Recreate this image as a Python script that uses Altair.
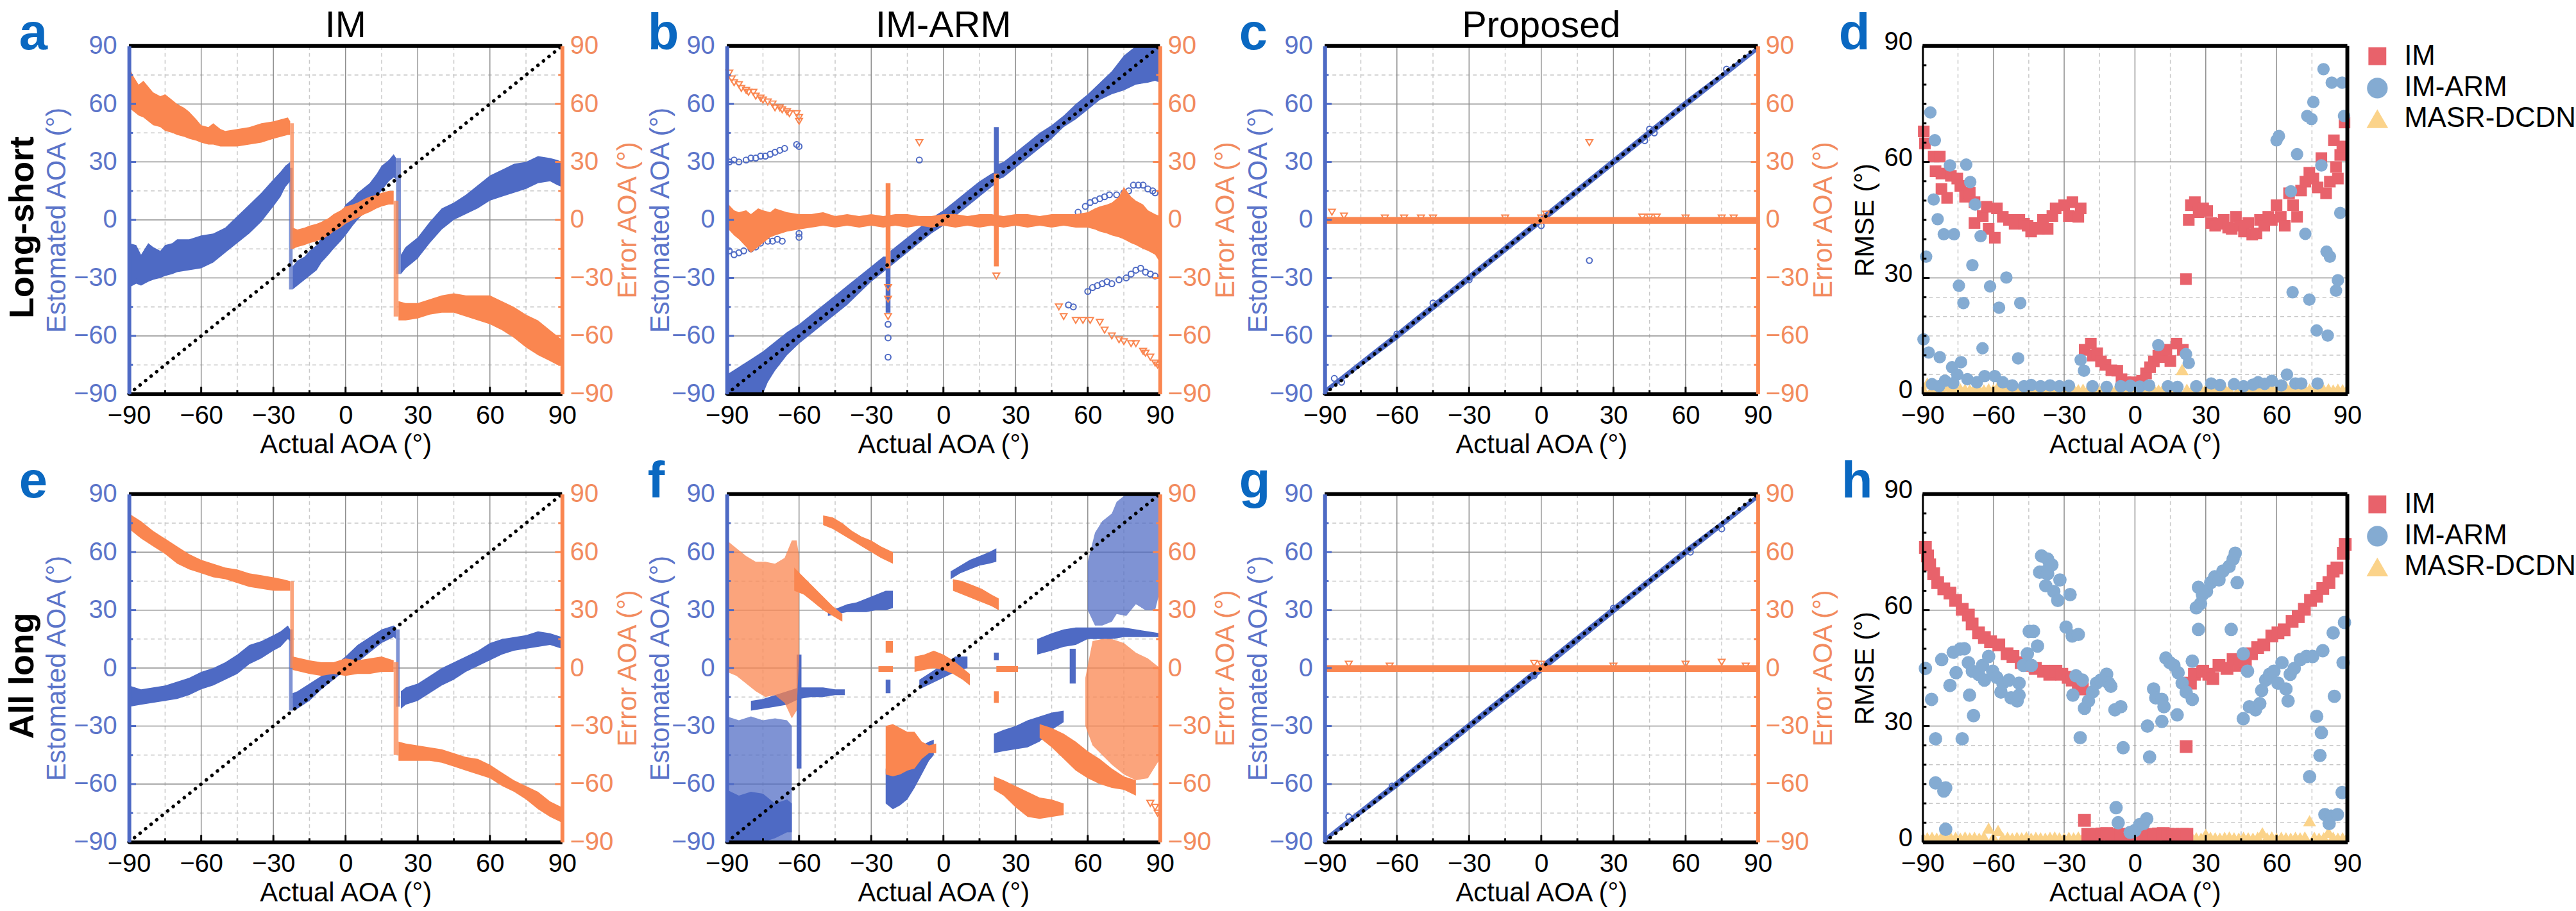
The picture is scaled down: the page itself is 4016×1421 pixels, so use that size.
import altair as alt
import pandas as pd

# ---------------------------------------------------------------- styling
FONT = "Liberation Sans"
BLUE = "#4e6ac4"
BLUE_TEXT = "#5b74c9"
ORANGE = "#fa8650"
ORANGE_TEXT = "#f28b5e"
LETTER_BLUE = "#0a68c1"
GRID_MAJOR = "#8f8f8f"
GRID_MINOR = "#c8c8c8"
IM_RED = "#e8626b"
ARM_BLUE = "#84abd2"
MASR_YELLOW = "#fbd38a"

W = 678
W_RMSE = 665
H = 545

# ---------------------------------------------------------------- axes
ANGLE_TICKS = [-90, -60, -30, 0, 30, 60, 90]
ANGLE_MINOR_TICKS = [-75, -45, -15, 15, 45, 75]
ANGLE_MAJOR_GRID = [-60, -30, 0, 30, 60]
ANGLE_MINOR_GRID = [-75, -45, -15, 15, 45, 75]
RMSE_TICKS = [0, 30, 60, 90]
RMSE_MINOR_TICKS = [5, 10, 15, 20, 25, 35, 40, 45, 50, 55, 65, 70, 75, 80, 85]
RMSE_MAJOR_GRID = [30, 60]
RMSE_MINOR_GRID = [5, 10, 15, 20, 25]
IDEAL = [-90, 90]
METHODS = ["IM", "IM-ARM", "MASR-DCDN"]

# ---------------------------------------------------------------- (a) IM, long-short
# bands are (actual, lowest estimate, highest estimate)
A_BLUE_1 = [(-90, -35, -12), (-87, -33, -13), (-85, -34, -18), (-82, -32, -12), (-80, -31, -14),
            (-77, -30, -16), (-75, -29, -13), (-72, -28, -12), (-70, -27, -10), (-65, -26, -10),
            (-60, -25, -8), (-55, -22, -7), (-50, -17, -4), (-45, -12, 2), (-40, -7, 8),
            (-35, -1, 14), (-30, 7, 21), (-27, 12, 25), (-25, 17, 28), (-23, 20, 30)]
A_BLUE_2 = [(-22, -36, -24), (-20, -34, -21), (-17, -31, -19), (-15, -29, -16), (-12, -26, -13),
            (-10, -22, -9), (-7, -18, -5), (-5, -15, -2), (-2, -11, 3), (0, -8, 8), (3, -3, 11),
            (5, 0, 14), (8, 4, 17), (10, 7, 19), (13, 12, 24), (15, 15, 28), (18, 20, 31),
            (20, 22, 34), (21, 21, 32)]
A_BLUE_3 = [(23, -28, -18), (25, -25, -14), (28, -22, -11), (30, -20, -9), (35, -12, -1),
            (40, -5, 6), (45, 0, 9), (50, 3, 13), (55, 6, 18), (60, 10, 23), (65, 12, 26),
            (70, 14, 29), (75, 16, 30), (80, 19, 33), (85, 20, 32), (88, 18, 31), (90, 17, 30)]
A_BLUE_JUMPS = [[(-23.5, -36, 27), (-22, -36, 27)], [(21, -28, 32), (23, -28, 32)]]
A_ORANGE_1 = [(-90, 58, 79), (-88, 56, 74), (-86, 54, 70), (-84, 53, 72), (-82, 51, 69), (-80, 49, 66),
              (-77, 48, 64), (-75, 46, 65), (-72, 45, 62), (-70, 44, 60), (-67, 43, 58), (-65, 42, 56),
              (-62, 41, 52), (-60, 40, 49), (-57, 39, 48), (-55, 39, 50), (-52, 38, 47), (-50, 38, 46),
              (-45, 38, 47), (-40, 39, 48), (-35, 40, 50), (-30, 42, 51), (-27, 43, 52), (-24, 44, 53),
              (-23, 44, 51)]
A_ORANGE_2 = [(-22, -15, -4), (-20, -14, -5), (-17, -13, -4), (-15, -12, -3), (-12, -11, -2),
              (-10, -10, -1), (-7, -8, 1), (-5, -6, 3), (-2, -4, 5), (0, -2, 7), (3, 0, 8), (5, 1, 9),
              (8, 3, 11), (10, 4, 12), (13, 6, 13), (15, 7, 14), (18, 8, 15), (20, 8, 15)]
A_ORANGE_3 = [(22, -52, -42), (25, -52, -43), (30, -51, -43), (35, -49, -41), (40, -48, -39),
              (45, -48, -38), (50, -50, -39), (55, -52, -39), (60, -54, -39), (65, -57, -42),
              (70, -61, -45), (75, -66, -49), (80, -70, -52), (85, -73, -57), (88, -75, -60), (90, -75, -62)]
A_ORANGE_JUMPS = [[(-23, -15, 50), (-21.5, -15, 50)], [(20, -50, 10), (22, -50, 10)]]

# ---------------------------------------------------------------- (b) IM-ARM, long-short
B_BLUE_1 = [(-90, -90, -80), (-85, -90, -76), (-80, -90, -72), (-75, -90, -68), (-73, -84, -66),
            (-70, -78, -63), (-65, -70, -58), (-60, -64, -54), (-55, -59, -49), (-50, -54, -44),
            (-45, -49, -39), (-40, -44, -34), (-35, -38, -29), (-30, -32, -24), (-25, -27, -19), (-23, -25, -19)]
B_BLUE_2 = [(-22, -24, -16), (-20, -22, -14), (-15, -17, -9), (-10, -12, -4), (-5, -7, 1), (0, -3, 5),
            (5, 2, 10), (10, 7, 15), (15, 12, 20), (20, 17, 24), (22, 19, 25)]
B_BLUE_3 = [(23, 21, 29), (25, 22, 30), (30, 27, 35), (35, 32, 40), (40, 37, 45), (45, 42, 49),
            (50, 48, 54), (55, 52, 60), (60, 57, 65), (65, 62, 71), (70, 65, 77), (75, 67, 85),
            (80, 70, 90), (85, 71, 90), (88, 72, 90), (90, 71, 88)]
B_BLUE_SPIKES = [[(-24, -48, -20), (-22, -48, -20)], [(21, 3, 48), (23, 3, 48)]]
B_BLUE_POINTS = [(-89, 30), (-87, 31), (-85, 30), (-82, 31), (-80, 32), (-78, 32), (-76, 33), (-74, 33),
                 (-72, 34), (-70, 35), (-68, 36), (-66, 37), (-61, 39), (-60, 38),
                 (-89, -16), (-87, -18), (-85, -17), (-83, -16), (-80, -15), (-78, -14), (-76, -12),
                 (-73, -11), (-71, -11), (-69, -10), (-67, -11), (-60, -7), (-60, -9),
                 (56, 4), (59, 7), (61, 9), (63, 10), (65, 11), (67, 12), (69, 13), (72, 13), (75, 14),
                 (77, 15), (79, 18), (81, 18), (83, 18), (85, 16), (87, 15), (88, 14),
                 (54, -45), (60, -37), (62, -35), (64, -34), (66, -33), (68, -32), (70, -33), (73, -31),
                 (76, -30), (78, -28), (80, -26), (82, -25), (84, -27), (86, -28), (88, -29),
                 (-10, 31), (52, -44), (-23, -54), (-23, -61), (-23, -71)]
B_ORANGE_MAIN = [(-90, -4, 9), (-87, -8, 5), (-85, -10, 4), (-82, -14, 5), (-80, -17, 3), (-77, -14, 6),
                 (-75, -12, 5), (-72, -9, 4), (-70, -8, 6), (-65, -6, 4), (-60, -5, 3), (-55, -4, 3),
                 (-50, -3, 4), (-45, -4, 2), (-40, -3, 3), (-35, -4, 2), (-30, -3, 3), (-25, -4, 2),
                 (-20, -3, 3), (-15, -4, 3), (-10, -3, 2), (-5, -4, 2), (0, -3, 3), (5, -4, 3),
                 (10, -3, 2), (15, -4, 3), (20, -3, 3), (25, -4, 2), (30, -3, 3), (35, -4, 3),
                 (40, -3, 2), (45, -4, 3), (50, -3, 3), (55, -4, 3), (60, -4, 4), (63, -5, 6),
                 (65, -6, 7), (68, -7, 8), (70, -8, 9), (73, -9, 12), (75, -10, 17), (78, -12, 12),
                 (80, -13, 10), (83, -15, 8), (85, -16, 5), (88, -18, 3), (90, -22, 2)]
B_ORANGE_SPIKES = [[(-24, -25, 19), (-22, -25, 19)], [(21, -24, 24), (23, -24, 24)]]
B_ORANGE_POINTS = [(-89, 76), (-88, 73), (-87, 71), (-85, 70), (-84, 68), (-82, 67), (-81, 66), (-79, 66),
                   (-78, 64), (-76, 63), (-75, 62), (-73, 61), (-71, 60), (-70, 58), (-68, 58), (-67, 57),
                   (-65, 56), (-64, 55), (-61, 55), (-60, 53), (-60, 51),
                   (48, -45), (50, -50), (55, -52), (58, -52), (61, -52), (65, -53), (67, -57), (70, -60),
                   (73, -62), (75, -63), (78, -64), (80, -64), (83, -68), (84, -69), (86, -71), (88, -74),
                   (89, -75), (-10, 40), (-23, -35), (-23, -41), (-23, -50), (22, -29)]

# ---------------------------------------------------------------- (c) proposed, long-short
C_BLUE_DIAG = [(-90, -90, -87.5), (-60, -62, -58), (-30, -32, -28), (0, -2, 2),
               (30, 28, 32), (60, 58, 62), (90, 87.5, 90)]
C_BLUE_POINTS = [(-86, -82), (-83, -84), (45, 47), (47, 45), (43, 41), (20, -21), (0, -3), (77, 78),
                 (-60, -59), (-30, -31), (-45, -43)]
C_ORANGE_FLAT = [(-90, -2, 1.5), (90, -2, 1.5)]
C_ORANGE_POINTS = [(-87, 4), (-82, 2), (-65, 1), (-57, 1), (-50, 1), (-45, 1), (-15, 1), (2, 3), (0, 1),
                   (42, 1.5), (45, 1.5), (48, 1.5), (60, 1), (75, 1), (80, 1), (20, 40)]

# ---------------------------------------------------------------- (e) IM, all long
E_BLUE_1 = [(-90, -20, -9), (-85, -19, -11), (-80, -18, -10), (-75, -17, -9), (-70, -16, -7),
            (-65, -14, -5), (-60, -11, -2), (-55, -9, 0), (-50, -6, 3), (-45, -3, 7), (-40, 2, 12),
            (-35, 5, 14), (-30, 9, 17), (-27, 11, 19), (-24, 15, 22), (-23, 14, 20)]
E_BLUE_2 = [(-22, -22, -13), (-20, -21, -12), (-15, -17, -8), (-10, -11, -4), (-5, -6, 1), (0, -1, 6),
            (5, 3, 12), (10, 8, 16), (15, 13, 20), (20, 16, 22), (21, 15, 21)]
E_BLUE_3 = [(23, -21, -12), (25, -19, -10), (30, -17, -8), (35, -13, -4), (40, -9, 0), (45, -6, 3),
            (50, -2, 6), (55, 1, 9), (60, 4, 13), (65, 7, 15), (70, 9, 16), (75, 10, 17), (80, 11, 19),
            (85, 12, 18), (90, 10, 16)]
E_BLUE_JUMPS = [[(-23.5, -22, 20), (-22, -22, 20)], [(21, -20, 20), (22.5, -20, 20)]]
E_ORANGE_1 = [(-90, 72, 80), (-85, 67, 76), (-80, 63, 71), (-75, 59, 67), (-70, 54, 63), (-65, 51, 59),
              (-60, 49, 56), (-55, 47, 54), (-50, 46, 52), (-45, 44, 51), (-40, 42, 49), (-35, 41, 48),
              (-30, 40, 47), (-26, 40, 46), (-23, 40, 45)]
E_ORANGE_2 = [(-22, -1, 6), (-15, -3, 4), (-10, -4, 3), (-5, -3, 3), (0, -4, 5), (5, -3, 4), (10, -3, 5),
              (15, -2, 6), (20, -2, 4)]
E_ORANGE_3 = [(22, -48, -38), (25, -48, -39), (30, -48, -40), (35, -48, -41), (40, -49, -42),
              (45, -51, -44), (50, -53, -46), (55, -55, -47), (60, -57, -50), (65, -61, -54),
              (70, -64, -58), (75, -68, -61), (80, -73, -64), (85, -77, -69), (90, -80, -72)]
E_ORANGE_JUMPS = [[(-23, 0, 45), (-21.5, 0, 45)], [(20, -45, 3), (22, -45, 3)]]

# ---------------------------------------------------------------- (f) IM-ARM, all long
F_BLUE_DENSE = [
    [(-61, -52, 7), (-59, -52, 7)],
    [(-80, -22, -17), (-75, -21, -16), (-70, -20, -14), (-65, -19, -12), (-60, -16, -10),
     (-55, -15, -10), (-50, -15, -10), (-45, -14, -11), (-41, -14, -11)],
    [(-48, 27, 30), (-44, 28, 31), (-40, 29, 33), (-36, 29, 34), (-32, 29, 36), (-28, 30, 38),
     (-24, 30, 40), (-21, 31, 40)],
    [(-24, -13, -6), (-22, -13, -6)],
    [(-24, -70, -52), (-21, -73, -53), (-18, -71, -54), (-15, -68, -52), (-12, -62, -45),
     (-9, -55, -40), (-6, -48, -38), (-4, -45, -37)],
    [(-10, -11, -6), (-5, -8, -2), (0, -5, 2), (5, -2, 6), (10, 0, 6)],
    [(3, 46, 50), (7, 49, 53), (11, 51, 56), (15, 53, 58), (19, 54, 60), (22, 55, 62)],
    [(21, -44, -34), (25, -43, -32), (30, -42, -30), (35, -41, -27), (40, -38, -25), (45, -32, -23),
     (50, -28, -22)],
    [(39, 7, 15), (45, 9, 18), (50, 11, 20), (55, 12, 21), (60, 15, 21), (65, 15, 21), (70, 15, 21),
     (75, 16, 21), (80, 16, 20), (85, 16, 19), (90, 16, 18)],
    [(52.5, -8, 10), (55, -8, 10)],
    [(21, 4, 8), (23, 4, 8)],
    [(-90, -90, -63), (-85, -90, -66), (-80, -90, -64), (-75, -90, -65), (-70, -88, -70),
     (-65, -85, -68), (-63, -85, -70)],
]
F_BLUE_SPARSE = [
    [(-90, -90, -25), (-85, -90, -27), (-80, -90, -25), (-75, -90, -27), (-70, -90, -26),
     (-65, -90, -27), (-63, -90, -30)],
    [(60, 30, 55), (63, 22, 70), (66, 22, 76), (70, 24, 80), (72, 28, 86), (76, 27, 90), (80, 33, 90),
     (84, 30, 90), (88, 30, 90), (90, 40, 90)],
]
F_ORANGE_DENSE = [
    [(-62, 40, 52), (-58, 38, 47), (-54, 34, 42), (-50, 30, 37), (-46, 27, 32), (-42, 24, 28)],
    [(-50, 74, 79), (-46, 72, 78), (-42, 69, 75), (-38, 66, 71), (-34, 63, 68), (-30, 60, 66),
     (-26, 57, 63), (-21, 54, 60)],
    [(-24, 8, 14), (-21, 8, 14)],
    [(-27, -2, 1), (-21, -2, 1)],
    [(-24, -55, -30), (-21, -56, -29), (-18, -55, -31), (-15, -53, -33), (-12, -52, -33),
     (-9, -47, -38), (-6, -44, -40), (-3, -44, -39)],
    [(-12, -2, 6), (-8, -1, 7), (-4, 0, 9), (0, -1, 7), (4, -3, 4), (8, -6, 0), (11, -9, -3)],
    [(4, 40, 46), (8, 38, 45), (12, 36, 43), (16, 34, 41), (20, 32, 38), (23, 30, 36)],
    [(21, -18, -12), (23, -18, -12)],
    [(22, -2, 1), (31, -2, 1)],
    [(21, -63, -56), (25, -66, -58), (30, -72, -61), (35, -77, -64), (40, -78, -67), (45, -77, -68),
     (50, -76, -70)],
    [(40, -36, -29), (45, -41, -31), (50, -47, -34), (55, -53, -38), (60, -57, -43), (65, -60, -47),
     (70, -62, -52), (75, -63, -56), (80, -66, -58)],
]
F_ORANGE_SPARSE = [
    [(-90, -2, 66), (-86, -4, 62), (-82, -8, 58), (-78, -12, 55), (-74, -15, 55), (-70, -14, 54),
     (-66, -18, 57), (-63, -26, 66), (-61, -22, 66), (-60, 5, 58)],
    [(59, -30, -5), (62, -40, 14), (66, -45, 15), (70, -50, 15), (75, -55, 13), (80, -58, 8),
     (85, -57, 5), (90, -47, 0)],
]
F_ORANGE_POINTS = [(88, -72), (89, -75), (86, -70)]

# ---------------------------------------------------------------- (g) proposed, all long
G_BLUE_DIAG = [(-90, -90, -87.5), (-60, -62, -58), (-30, -32, -28), (0, -2.5, 2),
               (30, 28, 32), (60, 58, 62), (90, 87.5, 90)]
G_BLUE_POINTS = [(-80, -77), (-3, -4), (75, 72), (62, 60), (30, 31), (-62, -61)]
G_ORANGE_FLAT = [(-90, -2, 1.5), (90, -2, 1.5)]
G_ORANGE_POINTS = [(-80, 2), (-63, 1), (-3, 2.5), (0, 2), (75, 3), (60, 2), (85, 1), (30, 1)]

# ---------------------------------------------------------------- (d) RMSE, long-short
D_IM = [(-89.5, 67.9), (-89, 64.8), (-85.3, 61.4), (-82.7, 61.4), (-84.5, 57.6), (-82, 57), (-78, 56.4),
        (-75.3, 55.7), (-82, 53), (-79.6, 50.7), (-74, 53.8), (-72, 51), (-70, 52), (-68, 49.6),
        (-68, 44.2), (-64.5, 46), (-62.8, 48.4), (-62, 42.7), (-59.4, 40.4), (-58.5, 48), (-56, 45.8),
        (-53.4, 45), (-51, 44), (-49, 45), (-47, 44), (-45.5, 43.5), (-44, 42), (-42, 43), (-40.7, 42.7),
        (-39, 45), (-37, 42.7), (-35, 46), (-33.6, 48), (-30, 48.8), (-28, 46), (-26.5, 49.6),
        (-24, 45.8), (-23, 48),
        (-21.3, 11.4), (-18.7, 13), (-17.8, 9.9), (-16, 10.5), (-14.4, 8.4), (-12.5, 7.5), (-10, 6.1),
        (-7.5, 6), (-5.7, 3.8), (-4, 3), (-2, 2.8), (-0.5, 3), (1.5, 2.8), (3, 3.4), (4.7, 5.3),
        (6.4, 6.9), (8, 8.4), (9.9, 9.9), (11.5, 9.5), (13.3, 11.4), (15, 8.5), (17.6, 13), (20.3, 11.4),
        (21.6, 29.7),
        (22.8, 45), (23.7, 48.8), (25.4, 49.6), (27, 47), (28.9, 48), (30.6, 47.3), (32.3, 44.2),
        (34, 43.5), (36, 44), (37.6, 45), (39.5, 43), (41, 42.7), (42.8, 45.8), (44.5, 43.5), (46.2, 42),
        (48, 44.2), (49.7, 41.2), (51.5, 41.5), (53, 45), (54.8, 43.5), (56.5, 45.8), (58, 45),
        (60, 48.8), (61.8, 45.8), (63.5, 43.5), (65.3, 51.9), (67, 48.8), (68.7, 45.8), (70.4, 52.6),
        (72.2, 54.9), (73.9, 57.2), (75.6, 55.7), (77.4, 53.4), (79, 61), (81, 51.9), (82.6, 54.9),
        (84.3, 65.6), (85.2, 58.7), (86, 55.7), (87, 61.8), (87.9, 64), (88.8, 70.2)]
D_ARM = [(-86.7, 72.8), (-84.8, 65.6), (-78.4, 59.1), (-71.5, 59.3), (-85.3, 50.3), (-83.6, 45.2),
         (-81, 41.3), (-76.7, 41.3), (-69.8, 54.8), (-67.7, 49), (-65.4, 40.8), (-88.5, 35.5),
         (-68.9, 33.3), (-54.5, 30.1), (-74.6, 28), (-61.4, 27.8), (-72.7, 23.5), (-57.6, 22.3),
         (-48.6, 23.5), (-89.6, 14.1), (-87.4, 10.7), (-82.7, 9.5), (-77.5, 6.9), (-73.7, 8.2),
         (-75.3, 5), (-64.6, 11.8), (-49.5, 9.2), (-80.5, 3.4), (-71, 3.8), (-67, 3), (-63.7, 4.6),
         (-59.4, 4.6), (-56, 3), (-23, 8.8), (-21.6, 6), (9.9, 12.6), (21.6, 10.3), (22.8, 8),
         (32.3, 2.7), (42, 2.5), (52.2, 3), (58, 3.4), (64.4, 5), (60, 65.6), (61, 66.7), (68.7, 62),
         (66.1, 52.4), (72.2, 41.4), (73, 71.9), (74.8, 71.1), (75.6, 75.5), (79.9, 84), (83.4, 80.5),
         (87.8, 80.5), (88.6, 71.9), (79, 59.1), (87, 46.8), (81.2, 36.8), (82.6, 35.5), (86, 29.4),
         (85.2, 26.7), (66.8, 26.3), (73.9, 24.4), (77, 16.4), (81.7, 15.1), (77.4, 2.7), (68, 2.7),
         (70.5, 2.7), (-52, 2.2), (-47, 2), (-44, 2.3), (-40, 2), (-36, 2.2), (-32, 2), (-28, 2.1),
         (-18, 2), (-12, 1.8), (-6, 2), (-2, 2.1), (2, 1.9), (6, 2.2), (14, 2), (18, 1.8), (26, 2),
         (36, 2.3), (46, 2), (50, 2.4), (55, 2.6), (62, 2.2), (-86, 2.5), (-83, 2), (-77, 2.8)]
MASR_ANGLES = list(range(-90, 91, 2))
D_MASR = [1.4, 2.8, 1.2, 1.3, 1.1, 2.1, 1.2, 1.0, 1.3, 1.2,
          1.1, 1.4, 1.2, 1.0, 1.3, 1.1, 2.0, 1.2, 1.1, 1.3,
          1.0, 1.2, 1.1, 1.4, 1.2, 1.1, 1.0, 1.3, 1.2, 1.1,
          1.2, 1.0, 1.3, 1.1, 1.2, 1.0, 1.1, 1.3, 1.2, 1.1,
          1.0, 1.2, 1.3, 1.1, 1.9, 1.2, 1.0, 1.3, 1.1, 1.2,
          1.0, 1.4, 1.2, 1.1, 1.3, 6.3, 1.2, 1.0, 1.1, 1.3,
          1.2, 1.0, 1.1, 1.2, 1.4, 1.1, 2.7, 1.2, 1.0, 1.1,
          1.3, 1.2, 1.1, 1.0, 1.2, 1.3, 1.1, 1.9, 1.2, 1.0,
          1.1, 1.3, 1.2, 1.0, 1.2, 1.1, 1.3, 1.0, 1.2, 1.1,
          1.2]

# ---------------------------------------------------------------- (h) RMSE, all long
H_IM = [(-88.8, 76.2), (-87.9, 74), (-87, 71.7), (-85.3, 69.4), (-83.6, 67.1), (-81, 65.5), (-78.4, 64.4),
        (-76, 62.5), (-73.2, 60.2), (-70.6, 58.7), (-69, 56.4), (-66.3, 54.1), (-63.8, 52.9),
        (-61.2, 51.8), (-57.7, 51), (-54.2, 48.7), (-51.7, 48), (-48.2, 46.4), (-45.6, 45.7),
        (-42.2, 44.9), (-38.7, 44.2), (-36.1, 43.4), (-33.5, 44.2), (-31, 43.4), (-28.3, 42.6),
        (-26.6, 41.9), (-24, 40.3), (-22.3, 39.6),
        (-21.4, 5.6), (21.7, 24.7),
        (-20, 2), (-18, 1.8), (-16, 2), (-14, 2.1), (-12, 2.2), (-10, 1.9), (-8, 1.8), (-6, 2), (-4, 2),
        (-2, 1.9), (0, 2), (2, 1.9), (4, 1.8), (6, 2), (8, 1.8), (10, 2.1), (12, 2.2), (14, 2), (16, 2),
        (18, 1.9), (20, 2), (22, 2),
        (23.5, 41.1), (25.2, 43.4), (28.7, 44.2), (31.3, 43.4), (33, 42.3), (35.6, 45.7), (39, 44.9),
        (41.6, 47.2), (44.2, 45.7), (46.8, 46.8), (49.4, 48.7), (52, 50.3), (54.6, 51), (58, 53.3),
        (60.6, 54.1), (63.2, 54.9), (66.6, 57.1), (69.2, 58.3), (71.8, 60.2), (74.4, 62.5), (77, 63.6),
        (79.6, 65.6), (82.2, 67.1), (84, 70.1), (85.6, 70.9), (88.3, 74.7), (89.1, 77)]
H_ARM = [(-88.8, 44.9), (-86.2, 36.9), (-84.5, 26.7), (-84.5, 15.3), (-80.2, 14), (-81, 13.2), (-80.2, 3.3),
         (-81.9, 47.2), (-78.4, 40.5), (-77, 49.1), (-74.1, 49.9), (-72.3, 50), (-75.8, 43.8),
         (-73.2, 26.7), (-70.6, 46.4), (-70.1, 38), (-68.4, 32.7), (-68.9, 44.2), (-66.3, 43.4),
         (-64.6, 45.7), (-63.8, 41.9), (-62, 48), (-60.3, 44.2), (-58.6, 42.6), (-56.8, 38.8), (-56, 41.1),
         (-53.4, 41.9), (-52.5, 37.3), (-49.9, 36.5), (-49.1, 41.1), (-49.1, 38), (-47.3, 45.7),
         (-45.6, 48.7), (-44.8, 54.5), (-43, 54.5), (-43.9, 45.7), (-41.3, 50.7), (-40.4, 69.8),
         (-39.6, 74), (-37, 73.2), (-36.1, 71.7), (-38.7, 69.8), (-37, 69.4), (-35.2, 71.7),
         (-37.8, 66.3), (-34.4, 64.8), (-32.7, 62.5), (-31.8, 67.8), (-29.2, 55.6), (-27.5, 64),
         (-26.6, 53.3), (-24, 53.7), (-26.3, 38), (-25, 43), (-22.3, 41.9), (-23.2, 27), (-21.4, 34.6),
         (-19.7, 36.5), (-18, 38.8), (-16.3, 41.1), (-14.5, 41.9), (-12, 43.4), (-11.1, 41.1),
         (-10.2, 40.3), (-8.5, 34.2), (-6, 35), (-8, 8.9), (-7.1, 5), (-5, 24.4), (-2, 2.5), (0, 3),
         (2, 4.5), (3.6, 4.8), (5, 6), (5.3, 30), (6.2, 22), (7.9, 39.6), (8.8, 37.3), (11.4, 36.9),
         (12.3, 35), (11.4, 31.2), (13.1, 47.6), (14.8, 46.4), (16.5, 45.7), (18.3, 43.8), (20, 41.1),
         (17.9, 32.9), (21.7, 38.8), (24.3, 36.9), (24.3, 46.8), (26, 60.6), (27.8, 61.7), (26.9, 65.9),
         (28.6, 64), (30.3, 64.8), (32.1, 67.1), (33.8, 68.6), (35.6, 67.8), (37.3, 70.1), (39.9, 71.3),
         (41.6, 73.2), (42.5, 74.7), (43.3, 67.1), (26.9, 55), (40.8, 55), (45.9, 48.7), (47.7, 44.2),
         (45.9, 31.9), (48.5, 35), (51.1, 34.2), (52.9, 35.8), (53.7, 39.2), (55.4, 41.9), (57.1, 43.4),
         (58.9, 44.2), (60.6, 41.1), (62.3, 46.4), (64, 39.6), (64.9, 36.5), (65.8, 43.4), (67.5, 44.9),
         (70.1, 47.2), (72.7, 48), (75.3, 48), (79.6, 49.5), (84, 54.1), (88.8, 56.8), (88.2, 46.4),
         (84.5, 37.7), (77, 32.5), (79, 28.3), (78.4, 22.4), (74, 16.9), (87.8, 12.8), (80.5, 7.1),
         (83.1, 6.7), (85.8, 7.1), (82.3, 4.8)]
H_MASR = [1.3, 1.1, 1.2, 1.0, 1.3, 1.2, 1.1, 1.2, 1.0, 1.3,
          1.1, 1.2, 1.0, 1.3, 3.6, 1.2, 3.0, 1.1, 1.2, 1.0,
          1.2, 1.1, 1.3, 1.0, 1.2, 1.1, 1.0, 1.2, 1.3, 1.1,
          1.0, 1.2, 1.1, 1.3, 1.2, 1.0, 1.1, 1.2, 1.0, 1.3,
          1.1, 1.2, 1.0, 1.3, 1.1, 2.2, 1.2, 1.0, 1.1, 1.2,
          1.3, 1.1, 1.0, 1.2, 1.1, 1.0, 1.2, 1.3, 1.1, 1.0,
          2.0, 1.2, 1.1, 1.0, 1.2, 1.3, 1.1, 1.0, 1.2, 1.1,
          1.0, 1.2, 2.4, 1.1, 1.3, 1.0, 1.2, 1.1, 1.0, 1.2,
          1.1, 1.3, 5.5, 1.2, 1.0, 1.1, 2.5, 1.2, 1.0, 1.1,
          1.2]

# ---------------------------------------------------------------- scales
XS = alt.Scale(domain=[-90, 90], nice=False, zero=False)
YS = alt.Scale(domain=[-90, 90], nice=False, zero=False)
RS = alt.Scale(domain=[0, 90], nice=False, zero=False)


def one_col(values, col):
    return pd.DataFrame({col: values})


def bottom_axis(w):
    return alt.Axis(orient="bottom", values=ANGLE_TICKS, grid=False, ticks=False, tickSize=0,
                    domainColor="black", domainWidth=6, labelFont=FONT, labelFontSize=40,
                    labelColor="black", labelPadding=46, labelBaseline="alphabetic",
                    labelFlush=False, labelOverlap=False, title="Actual AOA (°)", titleFont=FONT,
                    titleFontSize=42, titleFontWeight="normal", titleColor="black", titleX=w / 2,
                    titleY=92, titleBaseline="alphabetic", titleAlign="center", zindex=1)


def side_axis(orient, values, color, text_color, title, title_dx, pad, width, label_shift=0):
    return alt.Axis(orient=orient, values=values, grid=False, ticks=False, tickSize=0,
                    domainColor=color, domainWidth=width, labelFont=FONT, labelFontSize=40,
                    labelColor=text_color, labelPadding=pad, labelBaseline="middle",
                    labelOffset=label_shift,
                    labelFlush=False, labelOverlap=False, title=title, titleFont=FONT,
                    titleFontSize=42, titleFontWeight="normal", titleColor=text_color,
                    titleAngle=270, titleX=title_dx, titleY=H / 2, titleBaseline="middle",
                    titleAlign="center", zindex=1)


def grid_v(values, color, dashed):
    mark = dict(color=color, strokeWidth=1.5)
    if dashed:
        mark["strokeDash"] = [6, 5]
    return alt.Chart(one_col(values, "v")).mark_rule(**mark).encode(
        x=alt.X("v:Q", scale=XS, axis=None))


def grid_h(values, scale, color, dashed):
    mark = dict(color=color, strokeWidth=1.5)
    if dashed:
        mark["strokeDash"] = [6, 5]
    return alt.Chart(one_col(values, "v")).mark_rule(**mark).encode(
        y=alt.Y("v:Q", scale=scale, axis=None))


def tick_rules(values, side, length, color, scale, w):
    base = alt.Chart(one_col(values, "t")).mark_rule(color=color, strokeWidth=3)
    if side == "bottom":
        return base.encode(x=alt.X("t:Q", scale=XS, axis=None), y=alt.value(H), y2=alt.value(H - length))
    if side == "left":
        return base.encode(y=alt.Y("t:Q", scale=scale, axis=None), x=alt.value(0), x2=alt.value(length))
    return base.encode(y=alt.Y("t:Q", scale=scale, axis=None), x=alt.value(w), x2=alt.value(w - length))


def band_layer(segments, color, opacity, y_axis=None):
    rows = []
    for i, seg in enumerate(segments):
        for x, lo, hi in seg:
            rows.append({"seg": i, "x": x, "lo": lo, "hi": hi})
    return alt.Chart(pd.DataFrame(rows)).mark_area(color=color, opacity=opacity).encode(
        x=alt.X("x:Q", scale=XS, axis=None),
        y=alt.Y("lo:Q", scale=YS, axis=y_axis),
        y2="hi:Q",
        detail="seg:N",
    )


def point_layer(points, color, shape, size):
    return alt.Chart(pd.DataFrame(points, columns=["x", "y"])).mark_point(
        shape=shape, filled=False, color=color, size=size, strokeWidth=2, opacity=1).encode(
        x=alt.X("x:Q", scale=XS, axis=None), y=alt.Y("y:Q", scale=YS, axis=None))


def text_mark(text, x, y, size, color, weight="normal", angle=0, align="left", baseline="alphabetic"):
    return alt.Chart(pd.DataFrame({"t": [text]})).mark_text(
        font=FONT, fontSize=size, fontWeight=weight, color=color, angle=angle, align=align,
        baseline=baseline).encode(text="t:N", x=alt.value(x), y=alt.value(y))


def frame_top(w):
    return alt.Chart(one_col([0], "k")).mark_rule(color="black", strokeWidth=6).encode(
        x=alt.value(0), x2=alt.value(w), y=alt.value(0))


def scatter_panel(letter, letter_dx, ytitle_dx, title=None, row_label=None, anchor=False,
                  blue_dense=(), blue_sparse=(), blue_pts=(), orange_dense=(), orange_sparse=(),
                  orange_pts=()):
    w = W
    layers = [
        grid_v(ANGLE_MINOR_GRID, GRID_MINOR, True),
        grid_h(ANGLE_MINOR_GRID, YS, GRID_MINOR, True),
        grid_v(ANGLE_MAJOR_GRID, GRID_MAJOR, False),
        grid_h(ANGLE_MAJOR_GRID, YS, GRID_MAJOR, False),
    ]
    if blue_sparse:
        layers.append(band_layer(blue_sparse, BLUE, 0.72))
    if blue_dense:
        layers.append(band_layer(blue_dense, BLUE, 1.0))
    if blue_pts:
        layers.append(point_layer(blue_pts, BLUE, "circle", 80))
    if orange_sparse:
        layers.append(band_layer(orange_sparse, ORANGE, 0.75))
    # the dense orange layer carries the right-hand (error) axis
    layers.append(band_layer(orange_dense, ORANGE, 1.0,
                             y_axis=side_axis("right", ANGLE_TICKS, ORANGE, ORANGE_TEXT,
                                              "Error AOA (°)", 103, 12, 6)))
    if orange_pts:
        layers.append(point_layer(orange_pts, ORANGE, "triangle-down", 110))
    # the ideal-estimate diagonal carries the x axis and the left-hand (estimate) axis
    layers.append(
        alt.Chart(pd.DataFrame({"x": IDEAL, "y": IDEAL})).mark_line(
            color="black", strokeWidth=5.5, strokeDash=[0.1, 11], strokeCap="round").encode(
            x=alt.X("x:Q", scale=XS, axis=bottom_axis(w)),
            y=alt.Y("y:Q", scale=YS,
                    axis=side_axis("left", ANGLE_TICKS, BLUE, BLUE_TEXT, "Estomated AOA (°)",
                                   ytitle_dx, 19, 6))))
    layers += [
        tick_rules(ANGLE_TICKS, "bottom", 11, "black", YS, w),
        tick_rules(ANGLE_MINOR_TICKS, "bottom", 6, "black", YS, w),
        tick_rules(ANGLE_TICKS, "left", 11, BLUE, YS, w),
        tick_rules(ANGLE_MINOR_TICKS, "left", 6, BLUE, YS, w),
        tick_rules(ANGLE_TICKS, "right", 11, ORANGE, YS, w),
        tick_rules(ANGLE_MINOR_TICKS, "right", 6, ORANGE, YS, w),
        frame_top(w),
        text_mark(letter, letter_dx, 5, 80, LETTER_BLUE, weight="bold"),
    ]
    if title:
        layers.append(text_mark(title, w / 2, -14, 58, "black", align="center"))
    if row_label:
        layers.append(text_mark(row_label, -166, H / 2 + 12, 54, "black", weight="bold", angle=270,
                                align="center", baseline="middle"))
    if anchor:
        layers.append(alt.Chart(one_col([0], "k")).mark_rule(color="white", strokeWidth=1).encode(
            x=alt.value(-201), x2=alt.value(-200), y=alt.value(-68), y2=alt.value(-68)))
    return alt.layer(*layers).resolve_axis(x="independent", y="independent").properties(width=w, height=H)


def method_layer(points, color, shape, size, clip=False, x_axis=None, y_axis=None):
    return alt.Chart(pd.DataFrame(points, columns=["x", "y"])).mark_point(
        filled=True, shape=shape, color=color, opacity=1, size=size, strokeWidth=0, clip=clip).encode(
        x=alt.X("x:Q", scale=XS, axis=x_axis),
        y=alt.Y("y:Q", scale=RS, axis=y_axis),
    )


def legend_entry(label, color, shape, size, y):
    symbol = alt.Chart(pd.DataFrame({"m": [label]})).mark_point(
        filled=True, shape=shape, color=color, size=size, opacity=1, strokeWidth=0).encode(
        x=alt.value(712), y=alt.value(y))
    text = text_mark(label, 754, y, 44, "black", baseline="middle")
    return [symbol, text]


def rmse_panel(letter, letter_dx, im_pts, arm_pts, masr_vals, im_size, arm_size):
    w = W_RMSE
    layers = [
        grid_v(ANGLE_MINOR_GRID, GRID_MINOR, True),
        grid_h(RMSE_MINOR_GRID, RS, GRID_MINOR, True),
        grid_v(ANGLE_MAJOR_GRID, GRID_MAJOR, False),
        grid_h(RMSE_MAJOR_GRID, RS, GRID_MAJOR, False),
        method_layer(list(zip(MASR_ANGLES, masr_vals)), MASR_YELLOW, "triangle-up", 420, clip=True),
        # the IM series carries both axes of the panel
        method_layer(im_pts, IM_RED, "square", im_size, x_axis=bottom_axis(w),
                     y_axis=side_axis("left", RMSE_TICKS, "black", "black", "RMSE (°)", -90, 16, 3,
                                      label_shift=-6)),
        method_layer(arm_pts, ARM_BLUE, "circle", arm_size),
        tick_rules(ANGLE_TICKS, "bottom", 11, "black", RS, w),
        tick_rules(ANGLE_MINOR_TICKS, "bottom", 6, "black", RS, w),
        tick_rules(RMSE_TICKS, "left", 11, "black", RS, w),
        tick_rules(RMSE_MINOR_TICKS, "left", 6, "black", RS, w),
        frame_top(w),
        alt.Chart(one_col([0], "k")).mark_rule(color="black", strokeWidth=6).encode(
            x=alt.value(w), y=alt.value(0), y2=alt.value(H)),
        text_mark(letter, letter_dx, 5, 80, LETTER_BLUE, weight="bold"),
    ]
    layers += legend_entry(METHODS[0], IM_RED, "square", 784, 16)
    layers += legend_entry(METHODS[1], ARM_BLUE, "circle", 1050, 66)
    layers += legend_entry(METHODS[2], MASR_YELLOW, "triangle-up", 1150, 114)
    return alt.layer(*layers).resolve_axis(x="independent", y="independent").properties(width=w, height=H)


panel_a = scatter_panel("a", -172, -113, title="IM", row_label="Long-short", anchor=True,
                        blue_dense=[A_BLUE_1, A_BLUE_2, A_BLUE_3], blue_sparse=A_BLUE_JUMPS,
                        orange_dense=[A_ORANGE_1, A_ORANGE_2, A_ORANGE_3], orange_sparse=A_ORANGE_JUMPS)
panel_b = scatter_panel("b", -124, -104, title="IM-ARM",
                        blue_dense=[B_BLUE_1, B_BLUE_2, B_BLUE_3] + B_BLUE_SPIKES, blue_pts=B_BLUE_POINTS,
                        orange_dense=[B_ORANGE_MAIN] + B_ORANGE_SPIKES, orange_pts=B_ORANGE_POINTS)
panel_c = scatter_panel("c", -134, -104, title="Proposed",
                        blue_dense=[C_BLUE_DIAG], blue_pts=C_BLUE_POINTS,
                        orange_dense=[C_ORANGE_FLAT], orange_pts=C_ORANGE_POINTS)
panel_d = rmse_panel("d", -131, D_IM, D_ARM, D_MASR, 330, 380)
panel_e = scatter_panel("e", -172, -113, row_label="All long",
                        blue_dense=[E_BLUE_1, E_BLUE_2, E_BLUE_3], blue_sparse=E_BLUE_JUMPS,
                        orange_dense=[E_ORANGE_1, E_ORANGE_2, E_ORANGE_3], orange_sparse=E_ORANGE_JUMPS)
panel_f = scatter_panel("f", -124, -104,
                        blue_dense=F_BLUE_DENSE, blue_sparse=F_BLUE_SPARSE,
                        orange_dense=F_ORANGE_DENSE, orange_sparse=F_ORANGE_SPARSE,
                        orange_pts=F_ORANGE_POINTS)
panel_g = scatter_panel("g", -134, -104,
                        blue_dense=[G_BLUE_DIAG], blue_pts=G_BLUE_POINTS,
                        orange_dense=[G_ORANGE_FLAT], orange_pts=G_ORANGE_POINTS)
panel_h = rmse_panel("h", -127, H_IM, H_ARM, H_MASR, 400, 441)

chart = alt.concat(
    panel_a, panel_b, panel_c, panel_d, panel_e, panel_f, panel_g, panel_h,
    columns=4, spacing={"row": 157, "column": 258}, bounds="flush",
).properties(
    padding=0, background="white"
).configure_view(stroke=None)

chart.save("out.html", embed_options={"renderer": "svg", "actions": False})
